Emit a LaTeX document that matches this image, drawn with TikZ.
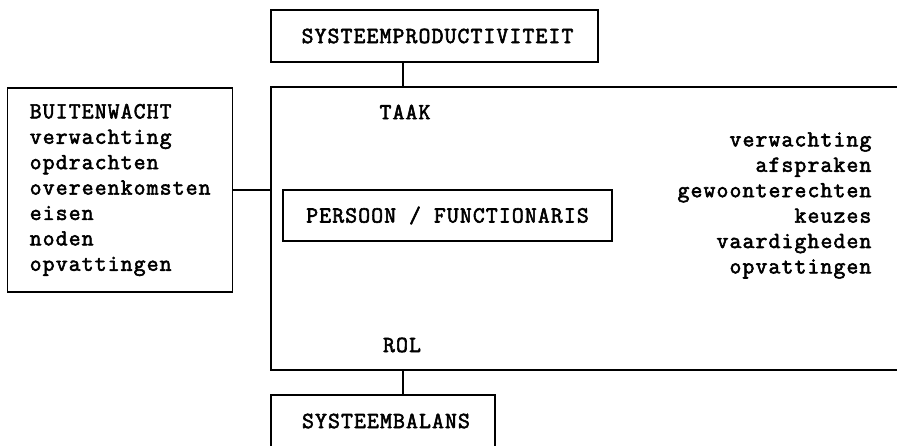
\documentclass[tikz,border=0pt]{standalone}
\usepackage{fontspec}
\newfontfamily\typewriter[LetterSpace=5,FakeBold=2.5]{Latin Modern Mono}
\tikzset{
  schema/.style={x=1pt,y=-1pt,line width=1.3pt},
  txt/.style={font=\typewriter\fontsize{23}{25.4}\selectfont,inner sep=0pt},
  kader/.style={txt,draw,line width=1.3pt}
}
\begin{document}
\begin{tikzpicture}[schema]
  \useasboundingbox (0,0) rectangle (897,446);
  \clip (0,0) rectangle (897,446);

  % Draw the outer boxes
  \node[kader,minimum width=327pt,minimum height=52pt] (prod) at (434.5,36) {\hspace*{6pt}SYSTEEMPRODUCTIVITEIT};
  \node[kader,minimum width=225pt,minimum height=204pt,align=left,inner xsep=20pt,anchor=west] (buiten) at (7,190)
    {BUITENWACHT\\verwachting\\opdrachten\\overeenkomsten\\eisen\\noden\\opvattingen};
  \node[kader,minimum width=224pt,minimum height=52pt] (balans) at (383,421) {\hspace*{6pt}SYSTEEMBALANS};

  % Draw the open frame with task and role
  \coordinate (ktop) at (403,87);
  \coordinate (kbot) at (403,370);
  \coordinate (kl) at (271,87);
  \draw (897,87) -- (kl) -- (kl |- kbot) -- (897,370);
  \node[txt] (taak) at (405,112) {TAAK};
  \node[txt] (rol) at (402,345) {ROL};
  \node[kader,minimum width=329pt,minimum height=51pt] (persoon) at (447.5,215.5) {PERSOON / FUNCTIONARIS};
  \node[txt,align=right,anchor=east] (binnen) at (872,205.5)
    {verwachting\\afspraken\\gewoonterechten\\keuzes\\vaardigheden\\opvattingen};

  % Draw the connections
  \draw (prod.south -| ktop) -- (ktop);
  \draw (kbot) -- (balans.north -| kbot);
  \draw (buiten.east) -- (buiten.east -| kl);
\end{tikzpicture}
\end{document}
